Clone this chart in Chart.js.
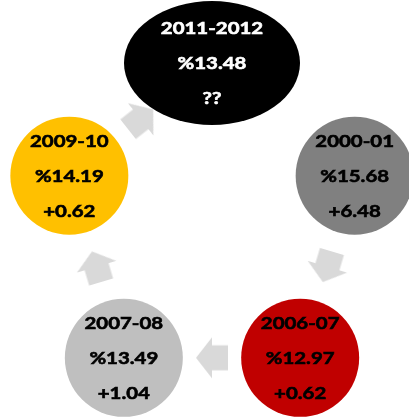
<!DOCTYPE html>
<html lang="ar">
<head>
  <meta charset="UTF-8" />
  <title>Cycle</title>
  <script src="https://cdn.jsdelivr.net/npm/chart.js"></script>
  <style>
    body { margin: 0; background: #fff; }
    #wrap { width: 409px; height: 419px; }
  </style>
</head>
<body>
  <div id="wrap"><canvas id="chart" width="409" height="419"></canvas></div>

  <script>
    // data, in cycle order (clockwise from the top)
    const periods = ['2011-2012', '2000-01', '2006-07', '2007-08', '2009-10'];
    const rates = [13.48, 15.68, 12.97, 13.49, 14.19];
    const changes = [null, 6.48, 0.62, 1.04, 0.62]; // null -> "??"
    const links = [[1, 2], [2, 3], [3, 4], [4, 0]]; // arrows from -> to

    // styles
    const fills = ['#000000', '#808080', '#c00000', '#bfbfbf', '#ffc000'];
    const textColors = ['#ffffff', '#000000', '#000000', '#000000', '#000000'];
    const arrowColor = '#d9d9d9';

    // layout: nodes on a pentagon
    const CX = 212, CY = 226, RX = 150, RY = 163, R_NODE = 59;
    function nodePos(i) {
      const a = (-90 + i * 72) * Math.PI / 180;
      return { x: CX + RX * Math.cos(a), y: CY + RY * Math.sin(a) };
    }

    // top node is an ellipse
    function ellipseImage(color) {
      const c = document.createElement('canvas');
      c.width = 178; c.height = 126;
      const g = c.getContext('2d');
      g.fillStyle = color;
      g.beginPath();
      g.ellipse(89, 63, 88, 62, 0, 0, Math.PI * 2);
      g.fill();
      return c;
    }

    // block arrow pointing right
    function arrowImage(color) {
      const c = document.createElement('canvas');
      c.width = 32; c.height = 42;
      const g = c.getContext('2d');
      g.fillStyle = color;
      g.beginPath();
      g.moveTo(0, 8.5); g.lineTo(16, 8.5); g.lineTo(16, 0.5);
      g.lineTo(32, 21); g.lineTo(16, 41.5); g.lineTo(16, 33.5);
      g.lineTo(0, 33.5); g.closePath();
      g.fill();
      return c;
    }

    const nodes = periods.map((p, i) => {
      const pos = nodePos(i);
      return { x: pos.x, y: pos.y, r: R_NODE };
    });
    const nodeStyles = periods.map((p, i) => i === 0 ? ellipseImage(fills[0]) : 'circle');

    const arrowImg = arrowImage(arrowColor);
    const arrows = links.map(([a, b]) => {
      const p = nodePos(a), q = nodePos(b);
      return { x: (p.x + q.x) / 2, y: (p.y + q.y) / 2, r: 20 };
    });
    const arrowRot = links.map(([a, b]) => {
      const p = nodePos(a), q = nodePos(b);
      return Math.atan2(q.y - p.y, q.x - p.x) * 180 / Math.PI;
    });

    const nodeText = {
      id: 'nodeText',
      afterDatasetsDraw(chart) {
        const ctx = chart.ctx;
        const meta = chart.getDatasetMeta(0);
        meta.data.forEach((el, i) => {
          const lines = [
            periods[i],
            '%' + rates[i].toFixed(2),
            changes[i] === null ? '??' : '+' + changes[i].toFixed(2)
          ];
          ctx.save();
          ctx.fillStyle = textColors[i];
          ctx.strokeStyle = textColors[i];
          ctx.lineWidth = 0.6;
          ctx.font = 'bold 17px Lato';
          ctx.textAlign = 'center';
          ctx.textBaseline = 'middle';
          lines.forEach((t, k) => {
            ctx.save();
            ctx.translate(el.x, el.y + (k - 1) * 35 + 1);
            ctx.scale(1.2, 1);
            ctx.fillText(t, 0, 0);
            ctx.strokeText(t, 0, 0);
            ctx.restore();
          });
          ctx.restore();
        });
      }
    };

    new Chart(document.getElementById('chart'), {
      type: 'bubble',
      data: {
        datasets: [
          {
            data: nodes,
            backgroundColor: fills,
            borderWidth: 0,
            pointStyle: nodeStyles,
            clip: false
          },
          {
            data: arrows,
            backgroundColor: arrowColor,
            borderWidth: 0,
            pointStyle: arrowImg,
            rotation: arrowRot,
            clip: false
          }
        ]
      },
      options: {
        responsive: false,
        animation: false,
        events: [],
        layout: { padding: 0, autoPadding: false },
        plugins: { legend: { display: false }, tooltip: { enabled: false } },
        scales: {
          x: { type: 'linear', min: 0, max: 409, display: false },
          y: { type: 'linear', min: 0, max: 419, reverse: true, display: false }
        }
      },
      plugins: [nodeText]
    });
  </script>
</body>
</html>
